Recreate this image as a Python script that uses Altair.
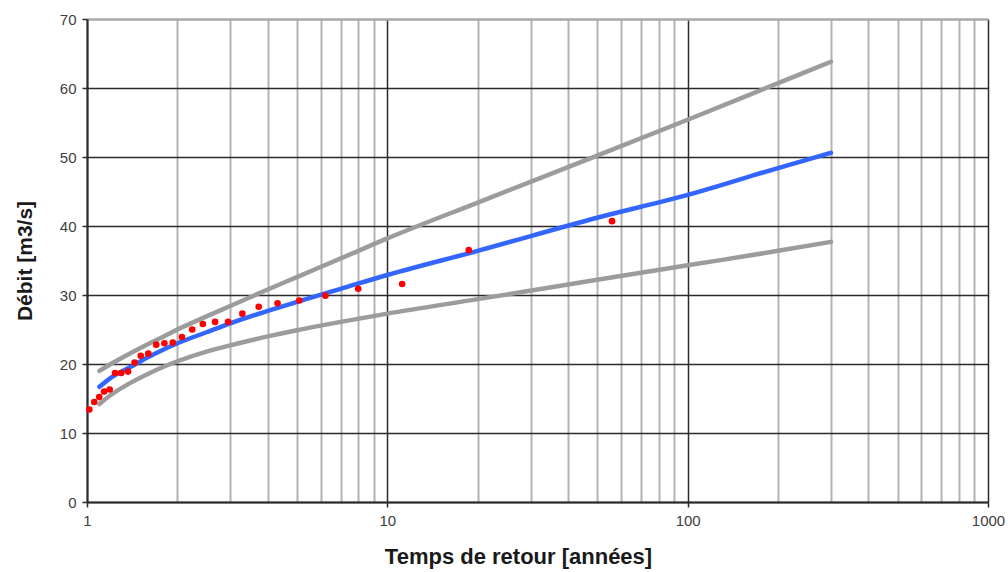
import altair as alt
import pandas as pd

# Observed floods: return period (years) and discharge (m3/s)
obs_T = [1.018, 1.057, 1.098, 1.14, 1.19, 1.24, 1.30, 1.37, 1.44, 1.51, 1.60, 1.70,
         1.81, 1.93, 2.07, 2.24, 2.43, 2.67, 2.95, 3.29, 3.73, 4.31, 5.09, 6.22,
         8.0, 11.2, 18.67, 56.0]
obs_Q = [13.4, 14.5, 15.2, 16.0, 16.3, 18.7, 18.7, 18.9, 20.2, 21.2, 21.5, 22.8,
         23.0, 23.1, 23.9, 25.0, 25.8, 26.1, 26.1, 27.3, 28.3, 28.8, 29.2, 29.9,
         30.9, 31.6, 36.5, 40.7]

# Fitted curve and confidence band, read at these return periods
curve_T = [1.1, 1.2, 1.4, 1.6, 1.8, 2, 2.5, 3, 4, 5, 7, 10, 20, 50, 100, 200, 300]
fit_Q   = [16.7, 18.0, 19.6, 21.0, 22.1, 23.0, 24.6, 25.9, 27.7, 29.0, 30.9, 32.9,
           36.4, 41.2, 44.5, 48.4, 50.6]
upper_Q = [19.0, 20.0, 21.6, 22.9, 24.0, 25.0, 26.9, 28.4, 30.8, 32.6, 35.3, 38.2,
           43.4, 50.2, 55.4, 60.7, 63.8]
lower_Q = [14.2, 15.5, 17.3, 18.6, 19.6, 20.4, 21.8, 22.7, 24.0, 24.9, 26.1, 27.3,
           29.4, 32.2, 34.3, 36.4, 37.7]

x_ticks = [1, 2, 3, 4, 5, 6, 7, 8, 9, 10, 20, 30, 40, 50, 60, 70, 80, 90,
           100, 200, 300, 400, 500, 600, 700, 800, 900, 1000]
y_ticks = [0, 10, 20, 30, 40, 50, 60, 70]

obs = pd.DataFrame({"T": obs_T, "Q": obs_Q})
rows = []
for name, qs in [("upper", upper_Q), ("lower", lower_Q), ("fit", fit_Q)]:
    for t, q in zip(curve_T, qs):
        rows.append({"T": t, "Q": q, "series": name})
lines = pd.DataFrame(rows)

major = "indexof([1,10,100,1000], datum.value) >= 0"

x_axis = alt.Axis(
    values=x_ticks, format="d",
    labelExpr=f"{major} ? datum.label : ''",
    grid=True,
    gridColor={"condition": {"test": major, "value": "#2b2b2b"}, "value": "#b4b4b4"},
    gridWidth={"condition": {"test": major, "value": 1.5}, "value": 2},
    tickColor="#2b2b2b",
    tickOpacity={"condition": {"test": major, "value": 1}, "value": 0},
    tickSize=5, tickWidth=1.5,
    domainColor="#2b2b2b", domainWidth=2,
    labelFont="Liberation Sans", labelFontSize=15, labelColor="#404040",
    labelPadding=6, labelFlush=False,
    titleFont="Liberation Sans", titleFontSize=22, titleFontWeight="bold",
    titleColor="#1a1a1a", titleX=431, titleY=54, titleBaseline="middle",
)
y_axis = alt.Axis(
    values=y_ticks, grid=True,
    gridColor={"condition": {"test": "datum.value == 70", "value": "#a8a8a8"}, "value": "#2b2b2b"},
    gridWidth={"condition": {"test": "datum.value == 70", "value": 2.5}, "value": 1.5},
    tickColor="#2b2b2b", tickSize=5, tickWidth=1.5,
    domainColor="#2b2b2b", domainWidth=2,
    labelFont="Liberation Sans", labelFontSize=15, labelColor="#404040",
    labelPadding=6,
    titleFont="Liberation Sans", titleFontSize=21, titleFontWeight="bold",
    titleColor="#1a1a1a", titleX=-62, titleY=241.5, titleAngle=-90,
    titleBaseline="middle", titleAlign="center",
)

x_enc = alt.X("T:Q", scale=alt.Scale(type="log", domain=[1, 1000]),
              axis=x_axis, title="Temps de retour [années]")
y_enc = alt.Y("Q:Q", scale=alt.Scale(domain=[0, 70]), axis=y_axis,
              title="Débit [m3/s]")

line_layer = alt.Chart(lines).mark_line(strokeWidth=4.5, strokeCap="round",
                                        interpolate="monotone").encode(
    x=x_enc, y=y_enc,
    color=alt.Color("series:N",
                    scale=alt.Scale(domain=["upper", "lower", "fit"],
                                    range=["#9c9c9c", "#9c9c9c", "#3366ff"]),
                    legend=None),
    detail="series:N",
    order=alt.Order("T:Q"),
)

pts = alt.Chart(obs).mark_circle(size=44, opacity=1, color="#ff0000").encode(
    x=alt.X("T:Q", scale=alt.Scale(type="log", domain=[1, 1000])),
    y=alt.Y("Q:Q", scale=alt.Scale(domain=[0, 70])),
)

chart = alt.layer(line_layer, pts).properties(
    width=901, height=483,
    autosize=alt.AutoSizeParams(type="none"),
    padding={"left": 87, "top": 19, "right": 20, "bottom": 70},
    background="white",
).configure_view(stroke=None)

chart.save("out.html", embed_options={"renderer": "svg", "actions": False})
